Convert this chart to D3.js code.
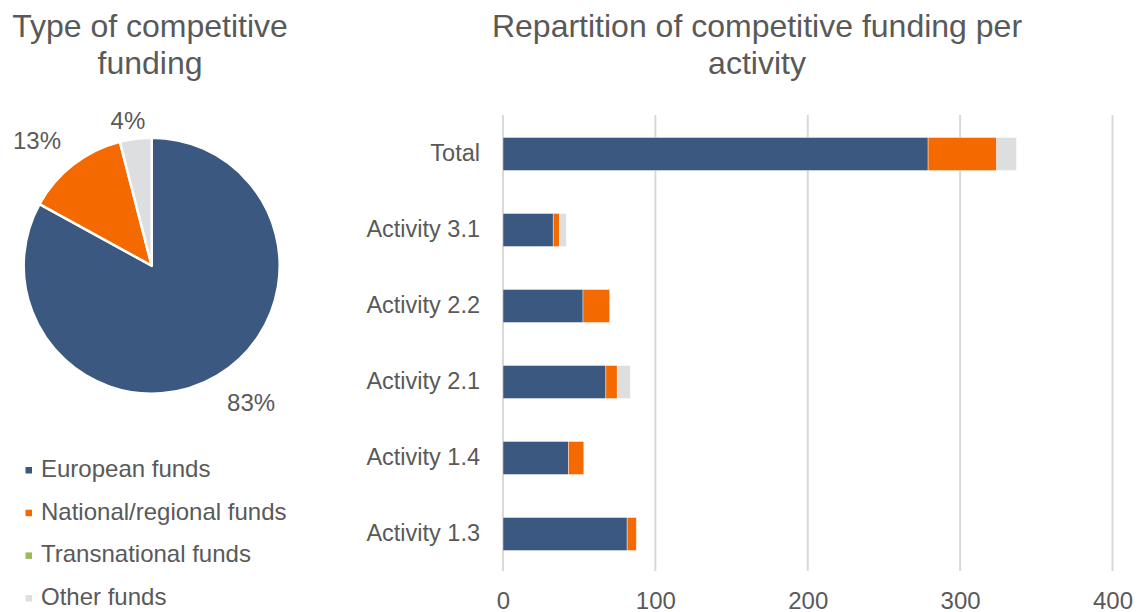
<!DOCTYPE html>
<html>
<head>
<meta charset="utf-8">
<script src="https://cdn.jsdelivr.net/npm/d3@7"></script>
<style>
  html, body { margin: 0; padding: 0; background: #fff; }
  svg { display: block; font-family: "Liberation Sans", Arial, sans-serif; }
</style>
</head>
<body>
<svg id="chart" width="1141" height="612"></svg>
<script>
// Funding sources (series)
const seriesNames = ["European funds", "National/regional funds", "Transnational funds", "Other funds"];
const seriesColors = ["#3B5880", "#F56A00", "#9BBB59", "#DDDEE0"];

// Bar chart categories, top to bottom
const categories = ["Total", "Activity 3.1", "Activity 2.2", "Activity 2.1", "Activity 1.4", "Activity 1.3"];

// Amounts per category for each funding source
const europeanFunds      = [279, 33, 52.5, 67.5, 43, 81.5];
const nationalFunds      = [45, 4, 17.5, 7.5, 10, 6];
const transnationalFunds = [0, 0, 0, 0, 0, 0];
const otherFunds         = [13, 4.5, 0, 8.5, 0, 0];

// Pie shares (percent) of the total
const pieShares = [83, 13, 0, 4];

// Value axis ticks
const xTicks = [0, 100, 200, 300, 400];

const textColor = "#595959";
const svg = d3.select("#chart");

// ---------- Titles ----------
function title(lines, cx) {
  const t = svg.append("text")
    .attr("text-anchor", "middle")
    .attr("font-size", 32)
    .attr("fill", textColor);
  lines.forEach((l, i) => {
    t.append("tspan").attr("x", cx).attr("y", 37 + i * 37).text(l);
  });
}
title(["Type of competitive", "funding"], 150);
title(["Repartition of competitive funding per", "activity"], 757);

// ---------- Pie ----------
const pieCx = 151.7, pieCy = 265.7, pieR = 128;
const pieData = seriesNames.map((name, i) => ({ name, value: pieShares[i], color: seriesColors[i] }));
const pie = d3.pie().sort(null).value(d => d.value);
const arcs = pie(pieData);
const arc = d3.arc().innerRadius(0).outerRadius(pieR);

const pg = svg.append("g").attr("transform", `translate(${pieCx},${pieCy})`);
pg.selectAll("path")
  .data(arcs.filter(a => a.data.value > 0))
  .join("path")
  .attr("d", arc)
  .attr("fill", d => d.data.color)
  .attr("stroke", "#fff")
  .attr("stroke-width", 2.5)
  .attr("stroke-linejoin", "round");

// Percentage labels just outside each slice
arcs.filter(a => a.data.value > 0).forEach(a => {
  const mid = (a.startAngle + a.endAngle) / 2;
  const sx = Math.sin(mid), sy = -Math.cos(mid);
  const gap = 20 * Math.min(1, Math.abs(sx) * 4);
  const px = (pieR + gap) * sx, py = (pieR + gap) * sy;
  const t = pg.append("text")
    .attr("font-size", 24)
    .attr("fill", textColor)
    .attr("text-anchor", "middle")
    .text(a.data.value + "%");
  const w = t.node().getBBox().width, h = 17.5;
  // place the box so its side closest to the pie sits at the anchor point
  const cx = px + Math.sign(sx) * w / 2 * Math.min(1, Math.abs(sx) * 3);
  const cy = py + Math.sign(sy) * h / 2;
  t.attr("x", cx).attr("y", cy + h / 2);
});

// ---------- Legend ----------
const lg = svg.append("g");
seriesNames.forEach((name, i) => {
  const baseY = 477 + i * 42.7;
  lg.append("rect")
    .attr("x", 25.5).attr("y", baseY - 10)
    .attr("width", 6.5).attr("height", 6.5)
    .attr("fill", seriesColors[i]);
  lg.append("text")
    .attr("x", 41).attr("y", baseY)
    .attr("font-size", 24)
    .attr("fill", textColor)
    .text(name);
});

// ---------- Stacked bars ----------
const x = d3.scaleLinear().domain([0, 400]).range([503, 1112.5]);
const y = d3.scaleBand().domain(categories).range([115, 571]).paddingInner(0.566).paddingOuter(0.283);

// gridlines
svg.append("g").selectAll("line")
  .data(xTicks)
  .join("line")
  .attr("x1", d => x(d)).attr("x2", d => x(d))
  .attr("y1", 115).attr("y2", 571)
  .attr("stroke", "#D9D9D9")
  .attr("stroke-width", 2);

const rows = categories.map((c, i) => ({
  category: c,
  "European funds": europeanFunds[i],
  "National/regional funds": nationalFunds[i],
  "Transnational funds": transnationalFunds[i],
  "Other funds": otherFunds[i]
}));
const stacked = d3.stack().keys(seriesNames)(rows);

svg.append("g").selectAll("g")
  .data(stacked)
  .join("g")
  .attr("fill", (d, i) => seriesColors[i])
  .selectAll("rect")
  .data(d => d.filter(s => s[1] - s[0] > 0))
  .join("rect")
  .attr("x", d => x(d[0]))
  .attr("width", d => x(d[1]) - x(d[0]))
  .attr("y", d => y(d.data.category) + 1)
  .attr("height", y.bandwidth())
  .attr("stroke", "#fff")
  .attr("stroke-opacity", 0.5)
  .attr("stroke-width", 0.8);

// category axis
const yAxis = svg.append("g")
  .attr("transform", `translate(${x(0)},0)`)
  .call(d3.axisLeft(y).tickSize(0).tickPadding(23));
yAxis.select(".domain").remove();
yAxis.selectAll("text")
  .attr("font-size", 23.5)
  .attr("font-family", "Liberation Sans, Arial, sans-serif")
  .attr("fill", textColor);

// value axis
const xAxis = svg.append("g")
  .attr("transform", `translate(0,571)`)
  .call(d3.axisBottom(x).tickValues(xTicks).tickSize(0).tickPadding(21));
xAxis.select(".domain").remove();
xAxis.selectAll("text")
  .attr("font-size", 24)
  .attr("font-family", "Liberation Sans, Arial, sans-serif")
  .attr("fill", textColor);
</script>
</body>
</html>
